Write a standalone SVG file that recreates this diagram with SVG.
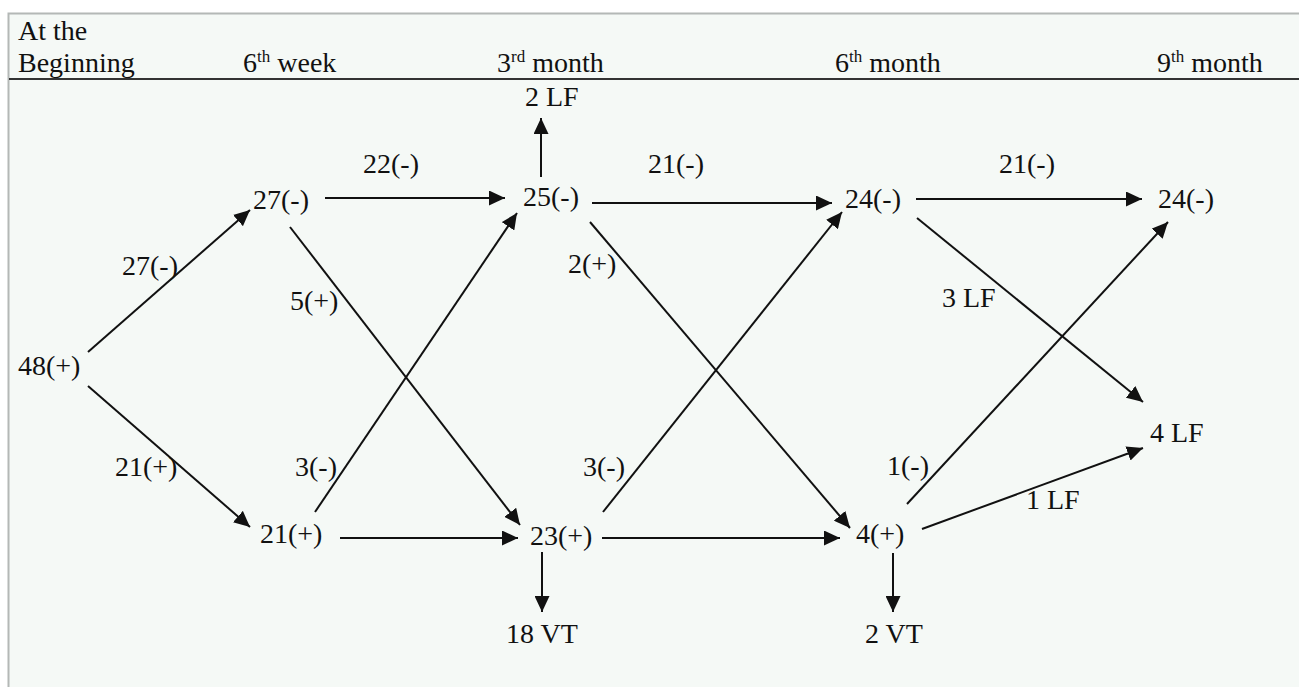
<svg xmlns="http://www.w3.org/2000/svg" width="1299" height="687" viewBox="0 0 1299 687" font-family="Liberation Serif, Times New Roman, serif">
<style>
text{font-family:'Liberation Serif','Times New Roman',serif;font-size:28px;fill:#111}
.sup{font-size:17px}
.c line{stroke:#111;stroke-width:2;marker-end:url(#ah)}
</style>
<defs>
<marker id="ah" markerUnits="userSpaceOnUse" markerWidth="17" markerHeight="15" refX="16" refY="7.5" orient="auto">
<path d="M0,0 L16,7.5 L0,15 z" fill="#111"/>
</marker>
</defs>
<rect x="0" y="0" width="1299" height="687" fill="#ffffff"/>
<rect x="8.5" y="13.5" width="1300" height="690" fill="#f5f9f6" stroke="#b4b8b6" stroke-width="2"/>
<line x1="9" y1="79" x2="1299" y2="79" stroke="#333" stroke-width="2"/>
<g id="header">
<text x="18" y="40">At the</text>
<text x="18" y="72">Beginning</text>
<text x="243" y="72">6<tspan class="sup" dy="-10">th</tspan><tspan dy="10"> week</tspan></text>
<text x="497" y="72">3<tspan class="sup" dy="-10">rd</tspan><tspan dy="10"> month</tspan></text>
<text x="835" y="72">6<tspan class="sup" dy="-10">th</tspan><tspan dy="10"> month</tspan></text>
<text x="1157" y="72">9<tspan class="sup" dy="-10">th</tspan><tspan dy="10"> month</tspan></text>
</g>
<g class="c" id="connectors">
<line x1="88" y1="352" x2="250" y2="210"/>
<line x1="88" y1="386" x2="250" y2="527"/>
<line x1="325" y1="198" x2="505" y2="198"/>
<line x1="290" y1="227" x2="520" y2="525"/>
<line x1="315" y1="512" x2="517" y2="213"/>
<line x1="340" y1="538" x2="518" y2="538"/>
<line x1="541" y1="177" x2="541" y2="118"/>
<line x1="592" y1="203" x2="832" y2="203"/>
<line x1="590" y1="222" x2="850" y2="528"/>
<line x1="603" y1="512" x2="842" y2="212"/>
<line x1="602" y1="538" x2="840" y2="538"/>
<line x1="542" y1="552" x2="542" y2="612"/>
<line x1="916" y1="199" x2="1142" y2="199"/>
<line x1="917" y1="218" x2="1143" y2="402"/>
<line x1="907" y1="504" x2="1168" y2="222"/>
<line x1="922" y1="529" x2="1143" y2="448"/>
<line x1="893" y1="553" x2="893" y2="612"/>
</g>
<g id="n48"><text x="18" y="375">48(+)</text></g>
<g id="n27"><text x="253" y="209">27(-)</text></g>
<g id="n21"><text x="260" y="543">21(+)</text></g>
<g id="n25"><text x="523" y="206">25(-)</text></g>
<g id="n23"><text x="530" y="545">23(+)</text></g>
<g id="n2lf"><text x="525" y="106">2 LF</text></g>
<g id="n18vt"><text x="506" y="643">18 VT</text></g>
<g id="n24a"><text x="845" y="208">24(-)</text></g>
<g id="n4"><text x="856" y="543">4(+)</text></g>
<g id="n2vt"><text x="865" y="643">2 VT</text></g>
<g id="n24b"><text x="1158" y="208">24(-)</text></g>
<g id="n4lf"><text x="1150" y="442">4 LF</text></g>
<g id="labels">
<text x="122" y="275">27(-)</text>
<text x="115" y="476">21(+)</text>
<text x="363" y="173">22(-)</text>
<text x="290" y="310">5(+)</text>
<text x="295" y="476">3(-)</text>
<text x="648" y="173">21(-)</text>
<text x="568" y="273">2(+)</text>
<text x="583" y="476">3(-)</text>
<text x="999" y="173">21(-)</text>
<text x="942" y="307">3 LF</text>
<text x="887" y="475">1(-)</text>
<text x="1026" y="509">1 LF</text>
</g>
</svg>
